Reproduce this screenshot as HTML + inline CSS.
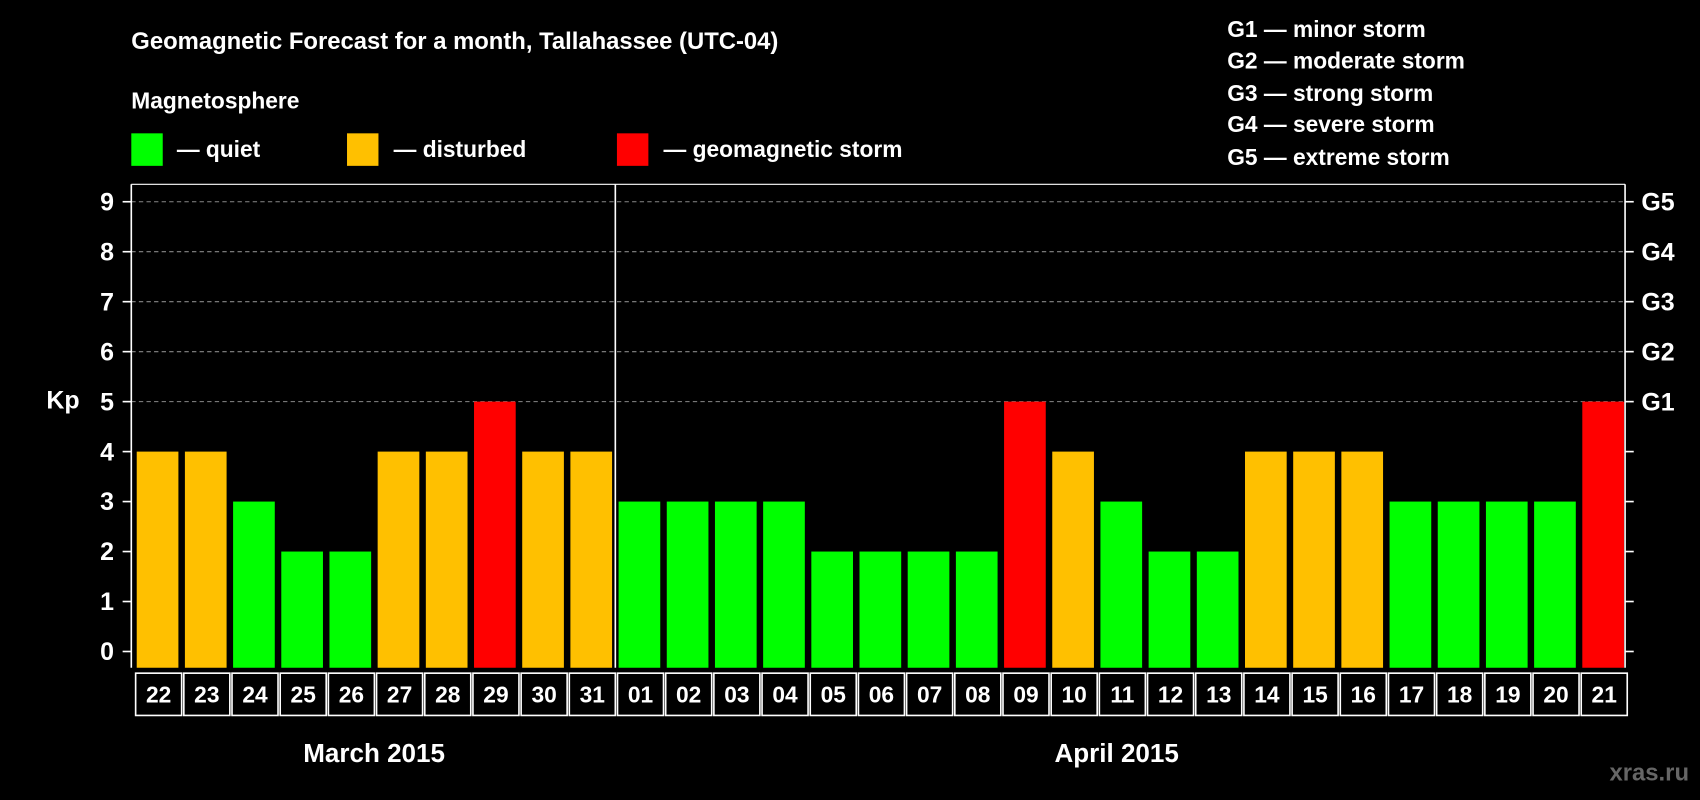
<!DOCTYPE html>
<html><head><meta charset="utf-8"><style>
html,body{margin:0;padding:0;background:#000;}
svg{display:block;font-family:"Liberation Sans",Arial,sans-serif;font-weight:bold;}
</style></head><body>
<svg id="chart" width="1700" height="800" viewBox="0 0 1568 738" xmlns="http://www.w3.org/2000/svg">
<rect width="1568" height="738" fill="#000"/>
<text x="121" y="45" fill="#fff" font-size="22">Geomagnetic Forecast for a month, Tallahassee (UTC-04)</text>
<text x="121" y="100" fill="#fff" font-size="21">Magnetosphere</text>
<g><rect x="121" y="123" width="29" height="30" fill="#00ff00"/><text x="163" y="145" fill="#fff" font-size="21">— quiet</text></g>
<g><rect x="320" y="123" width="29" height="30" fill="#ffc000"/><text x="363" y="145" fill="#fff" font-size="21">— disturbed</text></g>
<g><rect x="569" y="123" width="29" height="30" fill="#ff0000"/><text x="612" y="145" fill="#fff" font-size="21">— geomagnetic storm</text></g>
<g fill="#fff" font-size="21">
<text x="1132" y="34">G1 — minor storm</text>
<text x="1132" y="63">G2 — moderate storm</text>
<text x="1132" y="93">G3 — strong storm</text>
<text x="1132" y="122">G4 — severe storm</text>
<text x="1132" y="152">G5 — extreme storm</text>
</g>
<text x="58" y="377" fill="#fff" font-size="23" text-anchor="middle">Kp</text>
<g id="grid"></g><g id="bars"></g><g id="axes"></g><g id="dates"></g>
<text x="345" y="703" fill="#fff" font-size="24" text-anchor="middle">March 2015</text>
<text x="1030" y="703" fill="#fff" font-size="24" text-anchor="middle">April 2015</text>
<text x="1558" y="720" fill="#666" font-size="22" text-anchor="end">xras.ru</text>
</svg>
<script>
const days=["22","23","24","25","26","27","28","29","30","31","01","02","03","04","05","06","07","08","09","10","11","12","13","14","15","16","17","18","19","20","21"];
const kp=[4,4,3,2,2,4,4,5,4,4,3,3,3,3,2,2,2,2,5,4,3,2,2,4,4,4,3,3,3,3,5];
const yTicks=[0,1,2,3,4,5,6,7,8,9];
const gLabels=["","","","","","G1","G2","G3","G4","G5"];
const NS="http://www.w3.org/2000/svg";
const X0=121,X1=1499,TOP=170,BOT=616;
const slot=(X1-X0)/days.length;
const y=v=>601-v*46.1;
const x=i=>X0+i*slot;
function mk(t,a,p){const e=document.createElementNS(NS,t);for(const k in a)e.setAttribute(k,a[k]);p.appendChild(e);return e;}
const grid=document.getElementById('grid'),bars=document.getElementById('bars'),axes=document.getElementById('axes'),dates=document.getElementById('dates');
yTicks.forEach((v,i)=>{
 if(v>=5){const l=mk('line',{x1:X0,x2:X1,y1:y(v),y2:y(v),stroke:'#888','stroke-dasharray':'4,3','stroke-width':1},grid);
 
 }
 const t=mk('line',{x1:X0-8,x2:X0,y1:y(v),y2:y(v),stroke:'#fff','stroke-width':1.5},axes);
 
 
 const t2=mk('line',{x1:X1,x2:X1+8,y1:y(v),y2:y(v),stroke:'#fff','stroke-width':1.5},axes);
 
 
 const lb=mk('text',{x:105,y:y(v)+8,fill:'#fff','font-size':23,'text-anchor':'end'},axes);lb.textContent=v;
 
 
 if(gLabels[i]){const g=mk('text',{x:1514,y:y(v)+8,fill:'#fff','font-size':23},axes);g.textContent=gLabels[i];
 
 }
});
kp.forEach((v,i)=>{
 const c=v>=5?'#ff0000':(v>=4?'#ffc000':'#00ff00');
 const r=mk('rect',{x:x(i)+5,y:y(v),width:slot-6,height:BOT-y(v),fill:c},bars);
 
 
 const b=mk('rect',{x:x(i)+4,y:621,width:slot-2,height:39,fill:'none',stroke:'#fff','stroke-width':1.5},dates);
 
 
 const t=mk('text',{x:x(i)+3+slot/2,y:648,fill:'#fff','font-size':21,'text-anchor':'middle'},dates);t.textContent=days[i];
 
 
});
const la=mk('line',{x1:X0,x2:X0,y1:TOP,y2:BOT,stroke:'#fff','stroke-width':1.5},axes);


const ra=mk('line',{x1:X1,x2:X1,y1:TOP,y2:BOT,stroke:'#fff','stroke-width':1.5},axes);


const ta=mk('line',{x1:X0,x2:X1,y1:TOP,y2:TOP,stroke:'#fff','stroke-width':1},axes);


const sep=mk('line',{x1:x(10)+2,x2:x(10)+2,y1:TOP,y2:BOT,stroke:'#fff','stroke-width':1.5},axes);


</script>
</body></html>
